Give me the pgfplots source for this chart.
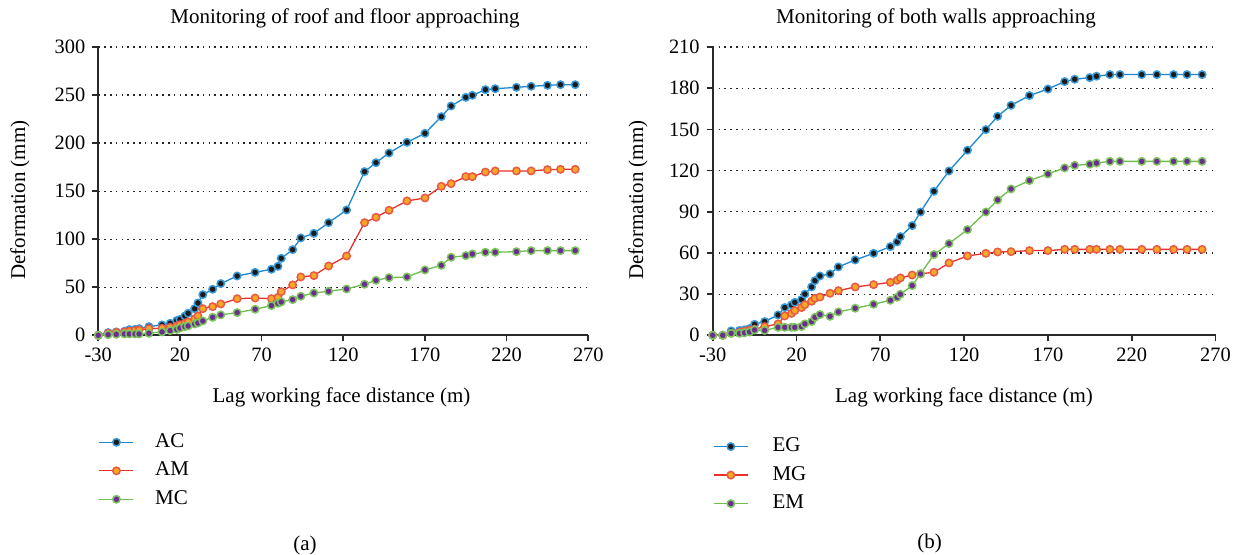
\documentclass[border=0pt]{standalone}
\usepackage{fontspec}
\setmainfont{Liberation Serif}
\usepackage{pgfplots}
\usepackage{pgfplotstable}
\pgfplotsset{compat=1.18}

\definecolor{blueline}{HTML}{1F87CF}
\definecolor{bluering}{HTML}{3A9AD9}
\definecolor{bluefill}{HTML}{1B1B1B}
\definecolor{redline}{HTML}{E8312B}
\definecolor{redring}{HTML}{E85A45}
\definecolor{redfill}{HTML}{F8A824}
\definecolor{greenline}{HTML}{6CBF4B}
\definecolor{greenring}{HTML}{7DC45E}
\definecolor{greenfill}{HTML}{6A2E8E}
\definecolor{axisgray}{HTML}{2A2A2A}

% roof and floor (a)
\pgfplotstableread{
x     AC     AM     MC
-30   0      0      0
-24   2.8    2.1    0.7
-19   3.5    3.1    1.0
-14   4.2    3.5    1.4
-11   5.9    4.2    1.4
-7.5  6.2    4.9    1.4
-5    6.9    5.5    1.4
1     9.0    6.9    2.1
9     10.8   7.3    3.5
14    12.5   8.3    4.9
18    15.3   9.7    6.2
20    16.6   11.0   7.6
23    20.1   12.5   9.0
25    22.9   13.9   9.7
29    27.7   17.0   11.8
31    33.6   20.1   12.8
34    42.3   27.7   14.9
40    47.9   29.8   18.7
45    53.8   32.6   21.2
55    61.7   38.1   23.6
66    65.5   38.8   27.1
76    68.7   38.1   30.9
80    71.8   39.5   33.3
82    80.1   45.4   34.7
89    89.1   52.4   37.1
94    101.3  60.7   40.6
102   106.1  62.1   44.0
111   117.2  72.1   45.8
122   130.4  82.5   48.2
133   170.3  117.2  53.1
140   179.6  122.8  57.2
148   189.7  130.1  60.0
159   200.8  139.8  60.7
170   210.2  142.9  68.0
180   227.5  155.0  72.8
186   238.6  157.8  81.2
195   247.6  165.1  82.9
199   249.7  165.1  84.6
207   255.6  169.9  86.4
213   256.6  171.0  86.4
226   258.0  171.0  87.0
235   259.1  171.0  88.1
245   260.1  172.4  88.1
253   260.8  172.7  88.1
262   260.8  172.7  88.1
}\roofdata

% both walls (b)
\pgfplotstableread{
x     EG     MG     EM
-30   0      0      0
-24   0      0      0
-19   3.2    1.5    1.4
-14   3.5    2.2    1.4
-11   4.0    3.0    1.8
-8    4.9    3.7    2.4
-5    8.0    4.4    3.9
1     10.0   6.3    3.6
9     14.8   8.3    5.8
13    20.2   14.1   5.8
17    22.1   16.0   5.8
19    24.0   18.0   5.8
23    26.0   20.2   6.4
25    30.0   22.3   8.3
29    35.2   24.8   10.0
31    39.8   27.0   13.1
34    43.2   27.9   15.1
40    44.7   30.6   13.8
45    49.8   32.5   17.0
55    54.9   35.2   19.7
66    59.7   36.9   22.6
76    64.6   38.6   25.5
80    68.0   40.1   27.7
82    71.9   41.8   29.9
89    79.9   43.9   36.2
94    89.8   44.8   44.7
102   104.9  45.9   58.8
111   119.7  52.7   66.8
122   134.8  57.8   77.0
133   149.8  59.7   89.8
140   159.5  60.7   98.6
148   167.5  60.9   106.6
159   174.6  61.7   112.7
170   179.4  61.7   117.5
180   184.8  62.6   121.9
186   186.5  62.6   123.8
195   187.7  62.6   124.6
199   188.7  62.6   125.5
207   189.9  62.6   126.7
213   189.9  62.6   126.7
226   189.9  62.6   126.7
235   189.9  62.6   126.7
245   189.9  62.6   126.7
253   189.9  62.6   126.7
262   189.9  62.6   126.7
}\walldata

\pgfplotsset{
  panel/.style={
    scale only axis,
    anchor=south west,
    height=144.15pt,
    axis x line*=bottom, axis y line*=left,
    axis line style={axisgray, line width=0.85pt},
    tick style={axisgray, line width=0.85pt},
    tick align=outside,
    major tick length=3pt,
    xmin=-30, xmax=270, xtick={-30,20,...,270},
    ymin=0,
    ymajorgrids,
    major grid style={black!85, line width=0.6pt, dash pattern=on 0.8pt off 2.1pt},
    tick label style={font=\fontsize{10.2}{12}\selectfont},
    /pgf/number format/assume math mode=true,
    clip=false,
    legend cell align=left,
    legend style={draw=none, fill=none, anchor=north west,
      font=\fontsize{10.5}{12}\selectfont, row sep=4.25pt, inner sep=0pt,
      nodes={inner sep=0.5pt, text height=7pt, text depth=2pt},
      /tikz/every odd column/.append style={column sep=10pt}},
    every axis plot/.append style={line width=0.65pt},
  },
  sblue/.style={blueline, mark=*, mark size=1.85pt, mark options={draw=bluering, fill=bluefill, line width=0.75pt}},
  sred/.style={redline, mark=*, mark size=1.85pt, mark options={draw=redring, fill=redfill, line width=0.75pt}},
  sgreen/.style={greenline, mark=*, mark size=1.85pt, mark options={draw=greenring, fill=greenfill, line width=0.75pt}},
}

\begin{document}
\begin{tikzpicture}[font=\fontsize{10.5}{12}\selectfont]
\path[use as bounding box] (0,0) rectangle (619.5pt,277.5pt);

\begin{axis}[panel, at={(49.15pt,109.85pt)}, width=245pt,
  ymax=300, ytick={0,50,...,300},
  legend style={at={(axis description cs:0,-0.335)}}]
\addplot[sblue] table[x=x, y=AC] {\roofdata};
\addplot[sred] table[x=x, y=AM] {\roofdata};
\addplot[sgreen] table[x=x, y=MC] {\roofdata};
\legend{AC, AM, MC}
\end{axis}

\begin{axis}[panel, at={(356.35pt,109.85pt)}, width=251.4pt,
  ymax=210, ytick={0,30,...,210},
  legend style={at={(axis description cs:0,-0.35)},
    /tikz/every odd column/.append style={column sep=11.5pt}}]
\addplot[sblue] table[x=x, y=EG] {\walldata};
\addplot[sred] table[x=x, y=MG] {\walldata};
\addplot[sgreen] table[x=x, y=EM] {\walldata};
\legend{EG, MG, EM}
\end{axis}

\node at (172.5pt,268.5pt) {Monitoring of roof and floor approaching};
\node at (468pt,268.5pt) {Monitoring of both walls approaching};
\node at (170.75pt,79pt) {Lag working face distance (m)};
\node at (482pt,79pt) {Lag working face distance (m)};
\node[rotate=90] at (10pt,177.5pt) {Deformation (mm)};
\node[rotate=90] at (319pt,177.5pt) {Deformation (mm)};
\node at (152.5pt,5pt) {(a)};
\node at (464.75pt,6pt) {(b)};
\end{tikzpicture}
\end{document}
